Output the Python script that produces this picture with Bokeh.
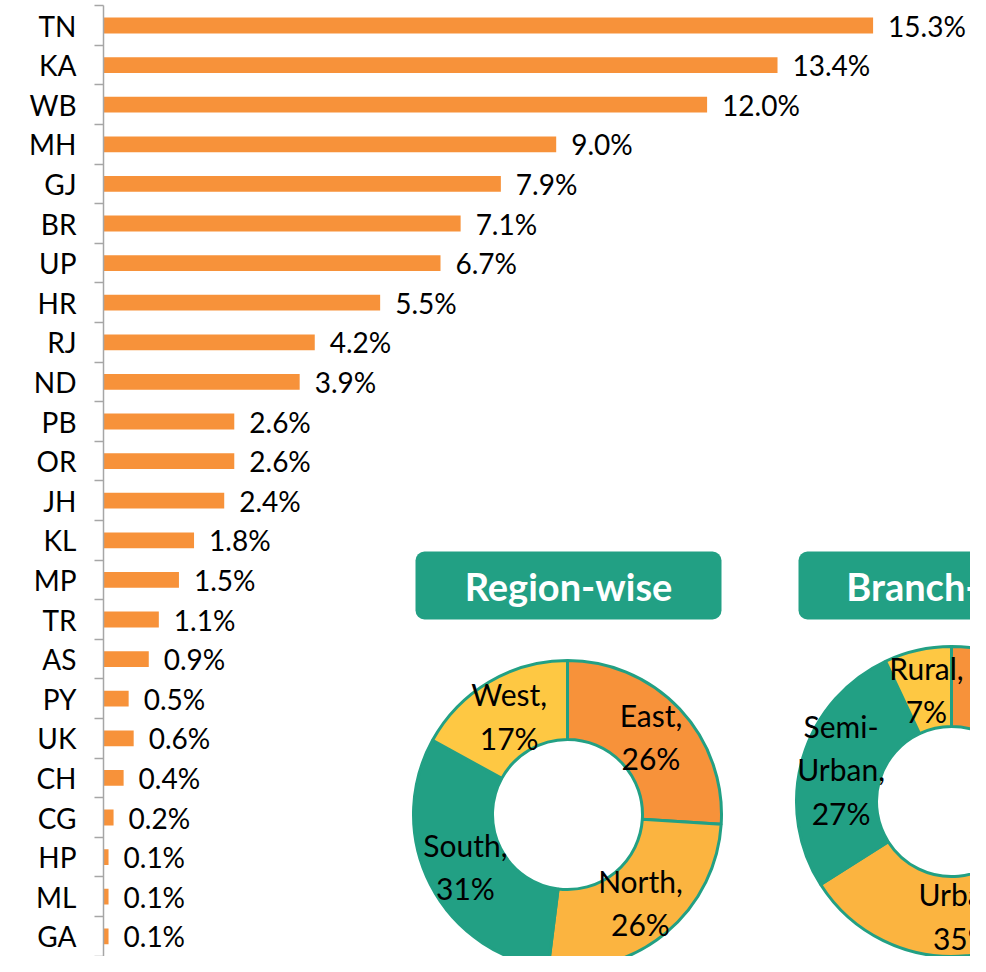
import math
from bokeh.plotting import figure
from bokeh.models import Range1d, LinearAxis, FixedTicker, ColumnDataSource
from bokeh.core.properties import value
from bokeh.embed import file_html
from bokeh.resources import INLINE

# ---------------- data ----------------
states = ["TN", "KA", "WB", "MH", "GJ", "BR", "UP", "HR", "RJ", "ND", "PB", "OR",
          "JH", "KL", "MP", "TR", "AS", "PY", "UK", "CH", "CG", "HP", "ML", "GA"]
shares = [15.3, 13.4, 12.0, 9.0, 7.9, 7.1, 6.7, 5.5, 4.2, 3.9, 2.6, 2.6,
          2.4, 1.8, 1.5, 1.1, 0.9, 0.5, 0.6, 0.4, 0.2, 0.1, 0.1, 0.1]

region_names = ["East", "North", "South", "West"]
region_shares = [26, 26, 31, 17]

branch_names = ["Metro", "Urban", "Semi-Urban", "Rural"]
branch_shares = [31, 35, 27, 7]

# ---------------- style ----------------
FONT = "Lato"
ORANGE = "#F7923A"
LIGHT_ORANGE = "#FBB440"
TEAL = "#22A084"
YELLOW = "#FEC843"
slice_colors = [ORANGE, LIGHT_ORANGE, TEAL, YELLOW]

W, H = 970, 956
LEFT = 103
PX_PER_UNIT = 50.3
ROW = 39.6
FIRST_ROW_Y = 25.0
Y_SHIFT = 10  # panel coordinates are drawn this many px higher

n = len(states)
idx = list(range(n))

p = figure(width=W, height=H, output_backend="svg", toolbar_location=None,
           x_range=Range1d(0, (W - LEFT) / PX_PER_UNIT),
           y_range=Range1d((H - FIRST_ROW_Y) / ROW, -FIRST_ROW_Y / ROW),
           x_axis_location=None, y_axis_location=None,
           min_border_left=LEFT, min_border_right=0, min_border_top=0,
           min_border_bottom=0)
p.outline_line_color = None
p.background_fill_color = "white"
p.border_fill_color = "white"
p.grid.grid_line_color = None
p.grid.visible = False

# pixel-like coordinate system for the donut panels
p.extra_x_ranges = {"px": Range1d(LEFT, W)}
p.extra_y_ranges = {"py": Range1d(H + Y_SHIFT, Y_SHIFT)}

# ---------------- bar chart ----------------
src = ColumnDataSource(dict(y=idx, v=shares, lab=[f"{s:.1f}%" for s in shares]))
p.hbar(y="y", left=0, right="v", height=0.4, source=src, fill_color=ORANGE,
       line_color=None)
p.text(x="v", y="y", text="lab", source=src, x_offset=15, text_align="left",
       text_baseline="middle", text_font=value(FONT), text_font_size=value("28px"),
       text_color="black")

yaxis = LinearAxis(
    ticker=FixedTicker(ticks=idx, minor_ticks=[i - 0.5 for i in range(n + 1)]),
    major_label_overrides={i: s for i, s in enumerate(states)},
    major_tick_out=0, major_tick_in=0, minor_tick_out=9, minor_tick_in=0,
    axis_line_color="#A6A6A6", axis_line_width=1.5,
    minor_tick_line_color="#A6A6A6", minor_tick_line_width=1.5,
    major_label_standoff=18,
    major_label_text_font=FONT, major_label_text_font_size="28px",
    major_label_text_color="black",
    bounds=(-0.5, n - 0.5),
)
p.add_layout(yaxis, "left")


# ---------------- donuts ----------------
def donut(names, vals, cx, cy, r_in, r_out, box_left, box_right, box_top,
          box_bottom, title):
    total = float(sum(vals))
    cum = 0.0
    starts, ends, lx, ly, labs = [], [], [], [], []
    rm = (r_in + r_out) / 2.0
    for nm, v in zip(names, vals):
        a0 = math.pi / 2 - 2 * math.pi * cum / total
        cum += v
        a1 = math.pi / 2 - 2 * math.pi * cum / total
        starts.append(a0)
        ends.append(a1)
        mid = (a0 + a1) / 2
        lx.append(cx + rm * math.cos(mid))
        ly.append(cy - rm * math.sin(mid))
        labs.append(nm.replace("-", "-\n") + f",\n{v}%")
    ds = ColumnDataSource(dict(s=starts, e=ends, c=slice_colors[:len(vals)]))
    p.annular_wedge(x=cx, y=cy, inner_radius=r_in, outer_radius=r_out,
                    inner_radius_units="screen", outer_radius_units="screen",
                    start_angle="s", end_angle="e", direction="clock",
                    fill_color="c", line_color=TEAL, line_width=3, source=ds,
                    x_range_name="px", y_range_name="py")
    p.text(x=lx, y=ly, text=labs, text_align="center", text_baseline="middle",
           text_font=value(FONT), text_font_size=value("30px"),
           text_line_height=1.2, text_color="black",
           x_range_name="px", y_range_name="py")
    p.quad(left=[box_left], right=[box_right], top=[box_top], bottom=[box_bottom],
           fill_color=TEAL, line_color=None, border_radius=9,
           x_range_name="px", y_range_name="py")
    p.text(x=[(box_left + box_right) / 2], y=[(box_top + box_bottom) / 2],
           text=[title], text_align="center", text_baseline="middle",
           text_font=value(FONT), text_font_size=value("38px"),
           text_font_style="bold", text_color="white",
           x_range_name="px", y_range_name="py")


donut(region_names, region_shares, 567, 824, 75, 154, 415, 721, 561, 629,
      "Region-wise")
donut(branch_names, branch_shares, 951, 811, 75, 155, 798, 1104, 561, 629,
      "Branch-wise")

open("out.html", "w").write(file_html(p, INLINE))
